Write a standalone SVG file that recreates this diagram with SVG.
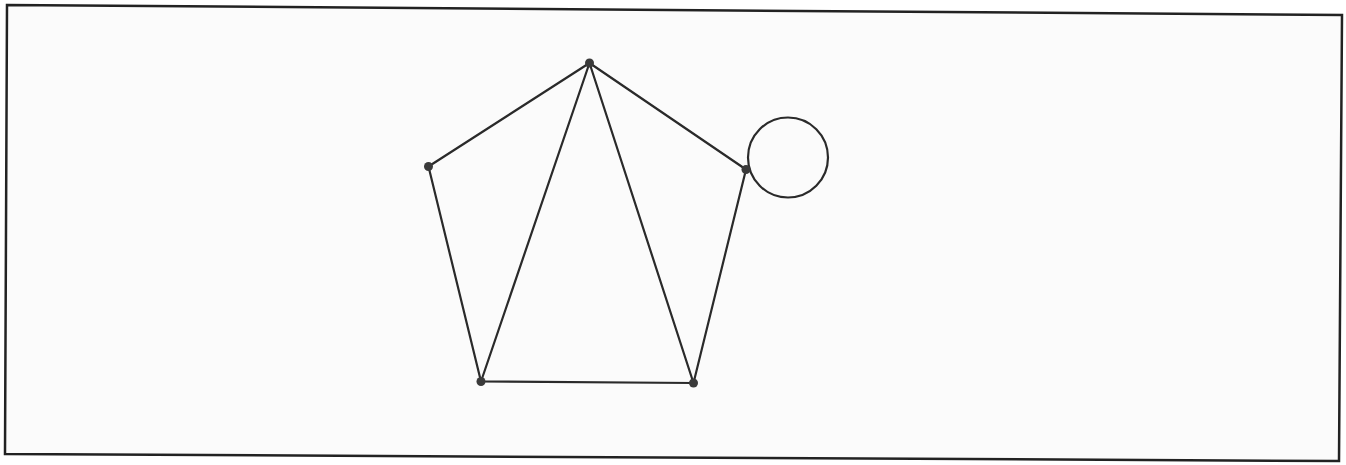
<svg xmlns="http://www.w3.org/2000/svg" width="1346" height="465" viewBox="0 0 1346 465">
<style>
.edge{stroke:#2a2a2a;stroke-width:2.2;fill:none;stroke-linecap:round}
.vtx{fill:#3a3a3a}
.frame{fill:#fbfbfb;stroke:#222;stroke-width:2.5}
</style>
<rect x="0" y="0" width="1346" height="465" fill="#ffffff"/>
<polygon class="frame" points="7,5 1342,15 1339,461 5,454"/>
<g id="connectors">
<line class="edge" x1="589.5" y1="63" x2="428.5" y2="166.5"/>
<line class="edge" x1="589.5" y1="63" x2="746" y2="169.5"/>
<line class="edge" x1="589.5" y1="63" x2="481" y2="381.5"/>
<line class="edge" x1="589.5" y1="63" x2="693.5" y2="383"/>
<line class="edge" x1="428.5" y1="166.5" x2="481" y2="381.5"/>
<line class="edge" x1="481" y1="381.5" x2="693.5" y2="383"/>
<line class="edge" x1="693.5" y1="383" x2="746" y2="169.5"/>
<circle class="edge" cx="788" cy="157.5" r="40"/>
</g>
<g id="v-top"><circle class="vtx" cx="589.5" cy="63" r="4.5"/></g>
<g id="v-left"><circle class="vtx" cx="428.5" cy="166.5" r="4.5"/></g>
<g id="v-right"><circle class="vtx" cx="746" cy="169.5" r="4.5"/></g>
<g id="v-bottom-left"><circle class="vtx" cx="481" cy="381.5" r="4.5"/></g>
<g id="v-bottom-right"><circle class="vtx" cx="693.5" cy="383" r="4.5"/></g>
</svg>
